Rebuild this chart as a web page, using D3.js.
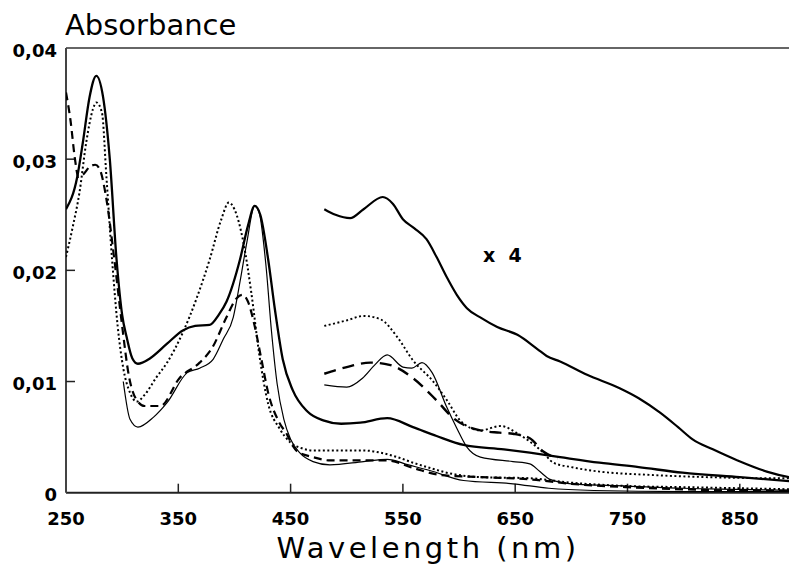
<!DOCTYPE html>
<html>
<head>
<meta charset="utf-8">
<script src="https://cdn.jsdelivr.net/npm/d3@7"></script>
<style>
  body { margin: 0; background: #fff; }
  svg { display: block; }
  .tick-label { font-family: "DejaVu Sans", sans-serif; font-weight: bold; font-size: 18px; fill: #000; }
  .title { font-family: "DejaVu Sans", sans-serif; font-size: 29px; fill: #000; }
</style>
</head>
<body>
<div id="chart"></div>
<script>
// spectra: [wavelength nm, absorbance]
const thickMain = [[250,0.0255],[260,0.0284],[265,0.0315],[271,0.0356],[277,0.0375],[283,0.0356],[289,0.030],[295,0.021],
  [300,0.0160],[304,0.0140],[309,0.0121],[314,0.0116],[325,0.0121],[340,0.0134],[354,0.0146],[365,0.0150],[378,0.0151],
  [386,0.0160],[393,0.0172],[405,0.0210],[412,0.0240],[418,0.0258],[423,0.0250],[430,0.0210],[436,0.0165],[443,0.0120],
  [452,0.0092],[465,0.0073],[479,0.0065],[495,0.0062],[512,0.0063],[536,0.0067],[559,0.0059],[580,0.0051],[604,0.0043],
  [640,0.0039],[663,0.0036],[690,0.0032],[725,0.0027],[760,0.0023],[799,0.0018],[850,0.0014],[900,0.0010]];

const thinMain = [[301,0.0100],[307,0.0066],[314,0.0059],[328,0.0068],[340,0.0081],[358,0.0108],[369,0.0112],[381,0.0120],
  [390,0.0138],[399,0.0158],[405,0.0190],[411,0.0225],[418,0.0258],[422,0.0252],[428,0.0205],[433,0.0145],[438,0.0098],
  [444,0.0066],[450,0.0048],[458,0.0036],[470,0.0028],[485,0.0025],[515,0.0028],[536,0.0030],[555,0.0025],[574,0.0020],
  [604,0.0011],[648,0.0008],[680,0.0004],[720,0.0002],[800,0.0001],[900,0.0001]];

const dottedMain = [[250,0.0212],[256,0.0239],[262,0.0270],[268,0.0315],[274,0.0345],[277,0.0351],[282,0.0342],[286,0.0284],
  [291,0.0210],[296,0.0150],[301,0.0112],[307,0.0090],[313,0.0082],[320,0.0088],[330,0.0103],[340,0.0117],[354,0.0144],
  [366,0.0174],[378,0.0210],[388,0.0245],[395,0.0261],[400,0.0255],[408,0.0225],[415,0.0180],[422,0.0125],[430,0.0080],
  [440,0.0058],[450,0.0045],[460,0.0040],[470,0.0038],[490,0.0038],[515,0.0038],[530,0.0036],[545,0.0032],[559,0.0027],
  [575,0.0022],[589,0.0018],[619,0.0014],[663,0.0013],[700,0.0009],[750,0.0006],[800,0.0005],[850,0.0004],[900,0.0003]];

const dashedMain = [[250,0.0360],[254,0.0335],[258,0.0300],[261,0.0284],[265,0.0286],[271,0.0293],[276,0.0295],[280,0.0291],
  [286,0.0264],[293,0.0210],[300,0.0150],[306,0.0105],[312,0.0085],[320,0.0078],[334,0.0078],[351,0.0103],[369,0.0117],
  [380,0.0130],[393,0.0158],[402,0.0175],[407,0.0178],[412,0.0172],[418,0.0150],[424,0.0120],[430,0.0090],[440,0.0063],
  [447,0.0052],[452,0.0042],[456,0.0037],[470,0.0032],[485,0.0029],[515,0.0029],[536,0.0029],[560,0.0022],[583,0.0016],
  [620,0.0014],[663,0.0012],[700,0.0008],[750,0.0005],[800,0.0003],[850,0.0002],[900,0.0002]];

// the x 4 traces above 480 nm
const thickX4 = [[480,0.0255],[490,0.0250],[503,0.0247],[515,0.0255],[532,0.0266],[541,0.0260],[550,0.0246],[560,0.0238],
  [571,0.0228],[580,0.0212],[589,0.0194],[598,0.0178],[607,0.0166],[620,0.0157],[634,0.0149],[652,0.0142],[670,0.0129],
  [678,0.0123],[690,0.0118],[714,0.0106],[743,0.0094],[760,0.0085],[779,0.0072],[795,0.0059],[808,0.0048],[826,0.0039],
  [848,0.0029],[874,0.0019],[894,0.0014],[900,0.0013]];

const thinX4 = [[480,0.0097],[500,0.0095],[514,0.0103],[525,0.0115],[536,0.0124],[550,0.0113],[558,0.0112],[567,0.0117],
  [576,0.0108],[589,0.0077],[598,0.0058],[607,0.0041],[619,0.0032],[648,0.0028],[663,0.0026],[672,0.0019],[681,0.0012],
  [700,0.0008],[750,0.0006],[800,0.0004],[850,0.0003],[900,0.0002]];

const dottedX4 = [[480,0.0150],[500,0.0155],[515,0.0159],[530,0.0156],[545,0.0140],[559,0.0119],[577,0.0100],[590,0.0082],
  [601,0.0065],[619,0.0056],[637,0.0060],[654,0.0052],[663,0.0046],[675,0.0036],[684,0.0027],[700,0.0023],[725,0.0019],
  [770,0.0016],[820,0.0014],[890,0.0013],[900,0.0013]];

const dashedX4 = [[480,0.0107],[500,0.0113],[521,0.0117],[538,0.0115],[559,0.0103],[580,0.0083],[595,0.0067],[619,0.0056],
  [636,0.0054],[648,0.0053],[663,0.0049],[675,0.0037],[688,0.0031]];

const xTicks = [250, 350, 450, 550, 650, 750, 850];
const yTicks = [0, 0.01, 0.02, 0.03, 0.04];

const W = 789, H = 569;
const margin = {top: 48, left: 66, bottom: 76};

const svg = d3.select("#chart").append("svg")
    .attr("width", W)
    .attr("height", H);

// scales (x runs past the picture edge, like the scan)
const x = d3.scaleLinear().domain([250, 900]).range([margin.left, margin.left + 650 * 1.123]);
const y = d3.scaleLinear().domain([0, 0.04]).range([H - margin.bottom - 0.3, margin.top]);

svg.append("defs").append("clipPath")
    .attr("id", "clip")
    .append("rect")
    .attr("x", margin.left)
    .attr("y", margin.top - 2)
    .attr("width", W - margin.left)
    .attr("height", y(0) - margin.top + 2);

// frame: left, top, bottom
const y0 = y(0);
svg.append("line").attr("x1", margin.left).attr("x2", W).attr("y1", y0).attr("y2", y0)
    .attr("stroke", "#222").attr("stroke-width", 2);
svg.append("line").attr("x1", margin.left).attr("x2", W).attr("y1", margin.top).attr("y2", margin.top)
    .attr("stroke", "#333").attr("stroke-width", 1.6);
svg.append("line").attr("x1", margin.left).attr("x2", margin.left).attr("y1", margin.top).attr("y2", y0)
    .attr("stroke", "#444").attr("stroke-width", 2);

// ticks pointing inward
svg.append("g").selectAll("line").data(xTicks.slice(1)).join("line")
    .attr("x1", d => x(d)).attr("x2", d => x(d))
    .attr("y1", y0).attr("y2", y0 - 9)
    .attr("stroke", "#222").attr("stroke-width", 1.5);
svg.append("g").selectAll("line").data(yTicks.slice(1, 4)).join("line")
    .attr("x1", margin.left).attr("x2", margin.left + 9)
    .attr("y1", d => y(d)).attr("y2", d => y(d))
    .attr("stroke", "#222").attr("stroke-width", 1.5);

const fmt = d => d === 0 ? "0" : d3.format(".2f")(d).replace(".", ",");

svg.append("g").selectAll("text").data(yTicks).join("text")
    .attr("class", "tick-label")
    .attr("x", 57)
    .attr("y", d => y(d) + 8.5)
    .attr("text-anchor", "end")
    .text(fmt);

svg.append("g").selectAll("text").data(xTicks).join("text")
    .attr("class", "tick-label")
    .attr("x", d => x(d))
    .attr("y", 525)
    .attr("text-anchor", "middle")
    .text(d => d);

svg.append("text").attr("class", "title")
    .attr("x", 65).attr("y", 35)
    .text("Absorbance");

svg.append("text").attr("class", "title")
    .attr("x", 428).attr("y", 558)
    .attr("text-anchor", "middle")
    .style("font-size", "29px")
    .style("letter-spacing", "3.5px")
    .text("Wavelength (nm)");

svg.append("text").attr("class", "tick-label")
    .attr("x", 483).attr("y", 262)
    .style("font-size", "19px")
    .attr("xml:space", "preserve")
    .text("x  4");

// curves
const line = d3.line()
    .curve(d3.curveMonotoneX)
    .x(d => x(d[0]))
    .y(d => y(d[1]));

const series = [
  {data: thickMain, width: 2.3, dash: null},
  {data: thinMain, width: 1.2, dash: null},
  {data: dottedMain, width: 2, dash: "2,2.5"},
  {data: dashedMain, width: 2.2, dash: "8,5"},
  {data: thickX4, width: 2.2, dash: null},
  {data: thinX4, width: 1.2, dash: null},
  {data: dottedX4, width: 1.9, dash: "2,2.5"},
  {data: dashedX4, width: 2.4, dash: "12,7"}
];

const plot = svg.append("g").attr("clip-path", "url(#clip)");
plot.selectAll("path").data(series).join("path")
    .attr("d", d => line(d.data))
    .attr("fill", "none")
    .attr("stroke", "#000")
    .attr("stroke-width", d => d.width)
    .attr("stroke-dasharray", d => d.dash);
</script>
</body>
</html>
